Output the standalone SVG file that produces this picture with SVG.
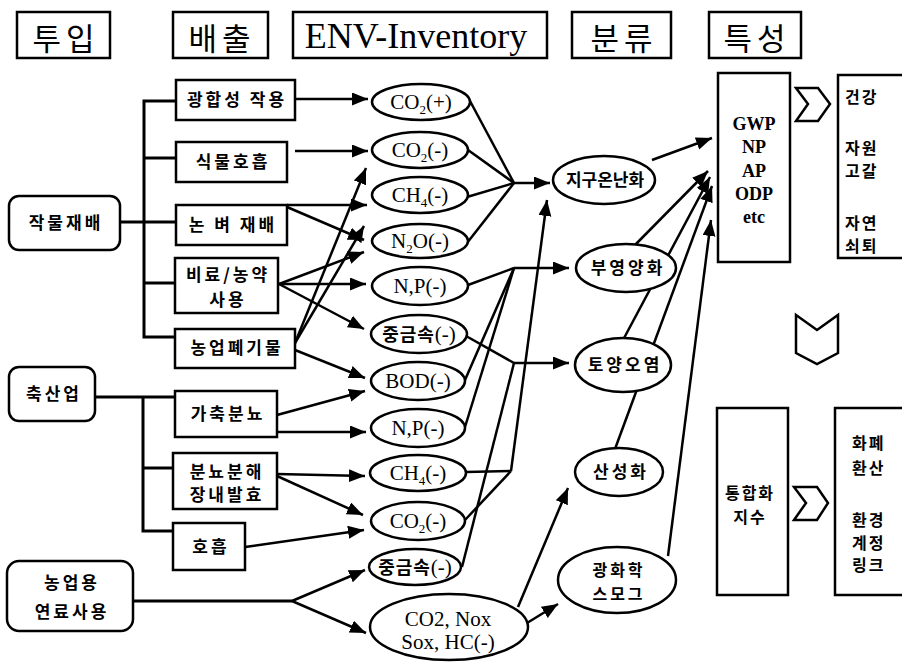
<svg xmlns="http://www.w3.org/2000/svg" width="902" height="662" viewBox="0 0 902 662">
<defs>
<marker id="ah" markerUnits="userSpaceOnUse" markerWidth="18" markerHeight="14" refX="16" refY="6.5" orient="auto">
<path d="M0,0 L16,6.5 L0,13 Z" fill="#000"/>
</marker>
<style>
.box{fill:#fff;stroke:#000;stroke-width:2.5}
.el{fill:#fff;stroke:#000;stroke-width:2.5}
.ln{fill:none;stroke:#000;stroke-width:2.5}
.tr{fill:none;stroke:#000;stroke-width:3}
.ar{marker-end:url(#ah)}
.chev{fill:#fff;stroke:#000;stroke-width:2.5;stroke-linejoin:miter}
.kr{font-family:"Noto Sans CJK KR",sans-serif;font-weight:700;font-size:17px;letter-spacing:3px;fill:#000}
.kr2{font-family:"Noto Sans CJK KR",sans-serif;font-weight:700;font-size:16px;letter-spacing:2px;fill:#000}
.hd{font-family:"Noto Sans CJK KR",sans-serif;font-size:31px;letter-spacing:5px;fill:#000;text-anchor:middle}
.sf{font-family:"Liberation Serif","Times New Roman",serif;font-size:21px;fill:#000}
.sfb{font-family:"Liberation Serif","Times New Roman",serif;font-size:18px;font-weight:700;fill:#000;text-anchor:middle}
.m{text-anchor:middle}
.sub{font-size:13px}
</style>
</defs>
<rect width="902" height="662" fill="#fff"/>

<g id="connectors">
<polyline class="tr" points="176,101 144,101 144,337 175,337"/>
<line class="tr" x1="144" y1="158" x2="176" y2="158"/>
<line class="tr" x1="120" y1="222" x2="176" y2="222"/>
<line class="tr" x1="144" y1="283" x2="175" y2="283"/>
<line class="tr" x1="95" y1="397" x2="175" y2="397"/>
<polyline class="tr" points="143,397 143,531 173,531"/>
<line class="tr" x1="143" y1="468" x2="173" y2="468"/>
<line class="tr" x1="133" y1="601" x2="292" y2="601"/>
<line class="ln ar" x1="295" y1="99" x2="368" y2="99"/>
<line class="ln ar" x1="295" y1="151" x2="368" y2="151"/>
<line class="ln ar" x1="287" y1="205" x2="367" y2="205"/>
<line class="ln ar" x1="287" y1="207" x2="364" y2="240"/>
<line class="ln ar" x1="279" y1="284" x2="364" y2="252"/>
<line class="ln ar" x1="279" y1="284" x2="366" y2="284"/>
<line class="ln ar" x1="279" y1="284" x2="364" y2="329"/>
<line class="ln ar" x1="295" y1="343" x2="366" y2="168"/>
<line class="ln ar" x1="295" y1="343" x2="364" y2="226"/>
<line class="ln ar" x1="295" y1="350" x2="365" y2="378"/>
<line class="ln ar" x1="277" y1="415" x2="365" y2="391"/>
<line class="ln ar" x1="277" y1="432" x2="366" y2="432"/>
<line class="ln ar" x1="277" y1="474" x2="365" y2="476"/>
<line class="ln ar" x1="277" y1="476" x2="363" y2="515"/>
<line class="ln ar" x1="245" y1="547" x2="364" y2="530"/>
<line class="ln ar" x1="292" y1="601" x2="365" y2="570"/>
<line class="ln ar" x1="292" y1="601" x2="366" y2="633"/>
<polyline class="ln" points="470,101 514,183"/>
<polyline class="ln" points="468,150 514,183"/>
<polyline class="ln" points="467,197 514,183"/>
<polyline class="ln" points="467,243 514,183"/>
<line class="ln ar" x1="514" y1="183" x2="550" y2="183"/>
<polyline class="ln" points="466,472 511,471"/>
<polyline class="ln" points="465,520 511,471"/>
<line class="ln ar" x1="511" y1="471" x2="547" y2="200"/>
<polyline class="ln" points="468,285 514,268"/>
<polyline class="ln" points="465,380 514,268"/>
<polyline class="ln" points="465,427 514,268"/>
<line class="ln ar" x1="514" y1="268" x2="569" y2="268"/>
<polyline class="ln" points="466,336 514,363"/>
<polyline class="ln" points="462,567 514,363"/>
<line class="ln ar" x1="514" y1="363" x2="569" y2="363"/>
<line class="ln ar" x1="518" y1="607" x2="568" y2="488"/>
<line class="ln ar" x1="527" y1="623" x2="558" y2="604"/>
<line class="ln ar" x1="652" y1="160" x2="712" y2="138"/>
<line class="ln ar" x1="635" y1="245" x2="708" y2="171"/>
<line class="ln ar" x1="623" y1="340" x2="710" y2="177"/>
<line class="ln ar" x1="615" y1="449" x2="712" y2="186"/>
<line class="ln ar" x1="668" y1="556" x2="711" y2="220"/>
</g>

<g id="big-arrows">
<polygon class="chev" points="796,88 818,88 830,104 818,121 796,121 808,104"/>
<polygon class="chev" points="796,315 817,330 838,315 838,353 817,364 796,353"/>
<polygon class="chev" points="794,487 817,487 828,503 817,520 794,520 806,503"/>
</g>

<g id="h-tuip"><rect class="box" x="17" y="12" width="93" height="46"/><text class="hd" x="66" y="50">투입</text></g>
<g id="h-baechul"><rect class="box" x="173" y="12" width="95" height="46"/><text class="hd" x="222" y="50">배출</text></g>
<g id="h-env"><rect class="box" x="293" y="12" width="254" height="46"/><text class="sf m" x="416" y="48" style="font-size:36px">ENV-Inventory</text></g>
<g id="h-bunryu"><rect class="box" x="572" y="12" width="99" height="46"/><text class="hd" x="624" y="50">분류</text></g>
<g id="h-teukseong"><rect class="box" x="709" y="12" width="92" height="46"/><text class="hd" x="757" y="50">특성</text></g>

<g id="n-jakmul"><rect class="box" x="9" y="196" width="111" height="54" rx="10"/><text class="kr m" x="66" y="229">작물재배</text></g>
<g id="n-chuksan"><rect class="box" x="9" y="367" width="86" height="54" rx="10"/><text class="kr m" x="54" y="400">축산업</text></g>
<g id="n-fuel"><rect class="box" x="7" y="561" width="126" height="70" rx="12"/><text class="kr m" x="72" y="589">농업용</text><text class="kr m" x="72" y="618">연료사용</text></g>

<g id="n-photo"><rect class="box" x="176" y="80" width="119" height="40"/><text class="kr m" x="237" y="106">광합성 작용</text></g>
<g id="n-plantresp"><rect class="box" x="176" y="142" width="111" height="40"/><text class="kr m" x="233" y="168">식물호흡</text></g>
<g id="n-rice"><rect class="box" x="176" y="205" width="111" height="40"/><text class="kr m" x="233" y="231">논 벼 재배</text></g>
<g id="n-fert"><rect class="box" x="175" y="258" width="103" height="55"/><text class="kr m" x="228" y="281">비료/농약</text><text class="kr m" x="228" y="306">사용</text></g>
<g id="n-waste"><rect class="box" x="175" y="329" width="120" height="39"/><text class="kr m" x="237" y="354">농업폐기물</text></g>
<g id="n-manure"><rect class="box" x="175" y="391" width="102" height="46"/><text class="kr m" x="228" y="420">가축분뇨</text></g>
<g id="n-decomp"><rect class="box" x="173" y="453" width="104" height="56"/><text class="kr m" x="227" y="478">분뇨분해</text><text class="kr m" x="227" y="501">장내발효</text></g>
<g id="n-breath"><rect class="box" x="173" y="523" width="72" height="47"/><text class="kr m" x="211" y="553">호흡</text></g>

<g id="e-co2p"><ellipse class="el" cx="421" cy="102" rx="49" ry="18"/><text class="sf m" x="421" y="109">CO<tspan class="sub" dy="5">2</tspan><tspan dy="-5">(+)</tspan></text></g>
<g id="e-co2m1"><ellipse class="el" cx="420" cy="150" rx="48" ry="18"/><text class="sf m" x="420" y="157">CO<tspan class="sub" dy="5">2</tspan><tspan dy="-5">(-)</tspan></text></g>
<g id="e-ch4m1"><ellipse class="el" cx="420" cy="195" rx="48" ry="18"/><text class="sf m" x="420" y="202">CH<tspan class="sub" dy="5">4</tspan><tspan dy="-5">(-)</tspan></text></g>
<g id="e-n2o"><ellipse class="el" cx="420" cy="241" rx="48" ry="17"/><text class="sf m" x="420" y="248">N<tspan class="sub" dy="5">2</tspan><tspan dy="-5">O(-)</tspan></text></g>
<g id="e-np1"><ellipse class="el" cx="420" cy="286" rx="48" ry="19"/><text class="sf m" x="420" y="293">N,P(-)</text></g>
<g id="e-hm1"><ellipse class="el" cx="419" cy="334" rx="48" ry="19"/><text class="sf m" x="419" y="341"><tspan class="kr" style="font-size:18px;letter-spacing:1px">중금속</tspan>(-)</text></g>
<g id="e-bod"><ellipse class="el" cx="418" cy="381" rx="47" ry="19"/><text class="sf m" x="418" y="388">BOD(-)</text></g>
<g id="e-np2"><ellipse class="el" cx="418" cy="428" rx="47" ry="19"/><text class="sf m" x="418" y="435">N,P(-)</text></g>
<g id="e-ch4m2"><ellipse class="el" cx="418" cy="473" rx="48" ry="18"/><text class="sf m" x="418" y="480">CH<tspan class="sub" dy="5">4</tspan><tspan dy="-5">(-)</tspan></text></g>
<g id="e-co2m2"><ellipse class="el" cx="418" cy="521" rx="47" ry="19"/><text class="sf m" x="418" y="528">CO<tspan class="sub" dy="5">2</tspan><tspan dy="-5">(-)</tspan></text></g>
<g id="e-hm2"><ellipse class="el" cx="415" cy="567" rx="46" ry="18"/><text class="sf m" x="415" y="574"><tspan class="kr" style="font-size:18px;letter-spacing:1px">중금속</tspan>(-)</text></g>
<g id="e-fuelgas"><ellipse class="el" cx="449" cy="627" rx="79" ry="33"/><text class="sf m" x="448" y="626">CO2, Nox</text><text class="sf m" x="448" y="649">Sox, HC(-)</text></g>

<g id="c-warming"><ellipse class="el" cx="604" cy="180" rx="51" ry="24"/><text class="kr m" x="605" y="186" style="letter-spacing:0px">지구온난화</text></g>
<g id="c-eutro"><ellipse class="el" cx="626" cy="268" rx="50" ry="24"/><text class="kr m" x="628" y="274">부영양화</text></g>
<g id="c-soil"><ellipse class="el" cx="623" cy="365" rx="48" ry="27"/><text class="kr m" x="625" y="371">토양오염</text></g>
<g id="c-acid"><ellipse class="el" cx="619" cy="472" rx="44" ry="24"/><text class="kr m" x="621" y="478">산성화</text></g>
<g id="c-smog"><ellipse class="el" cx="617" cy="580" rx="59" ry="33"/><text class="kr m" x="619" y="576" style="font-size:16px">광화학</text><text class="kr m" x="619" y="600" style="font-size:16px">스모그</text></g>

<g id="r-gwp"><rect class="box" x="718" y="73" width="72" height="189"/>
<text class="sfb" x="754" y="130">GWP</text><text class="sfb" x="754" y="153">NP</text><text class="sfb" x="754" y="177">AP</text><text class="sfb" x="754" y="200">ODP</text><text class="sfb" x="754" y="223">etc</text></g>
<g id="r-impact"><rect class="box" x="838" y="75" width="80" height="183"/>
<text class="kr2" x="845" y="103">건강</text><text class="kr2" x="845" y="154">자원</text><text class="kr2" x="845" y="177">고갈</text><text class="kr2" x="845" y="229">자연</text><text class="kr2" x="845" y="252">쇠퇴</text></g>
<g id="r-integ"><rect class="box" x="717" y="408" width="71" height="187"/>
<text class="kr2 m" x="750" y="499">통합화</text><text class="kr2 m" x="750" y="523">지수</text></g>
<g id="r-money"><rect class="box" x="835" y="408" width="80" height="187"/>
<text class="kr2" x="852" y="449">화폐</text><text class="kr2" x="852" y="474">환산</text><text class="kr2" x="852" y="526">환경</text><text class="kr2" x="852" y="549">계정</text><text class="kr2" x="852" y="571">링크</text></g>
</svg>
